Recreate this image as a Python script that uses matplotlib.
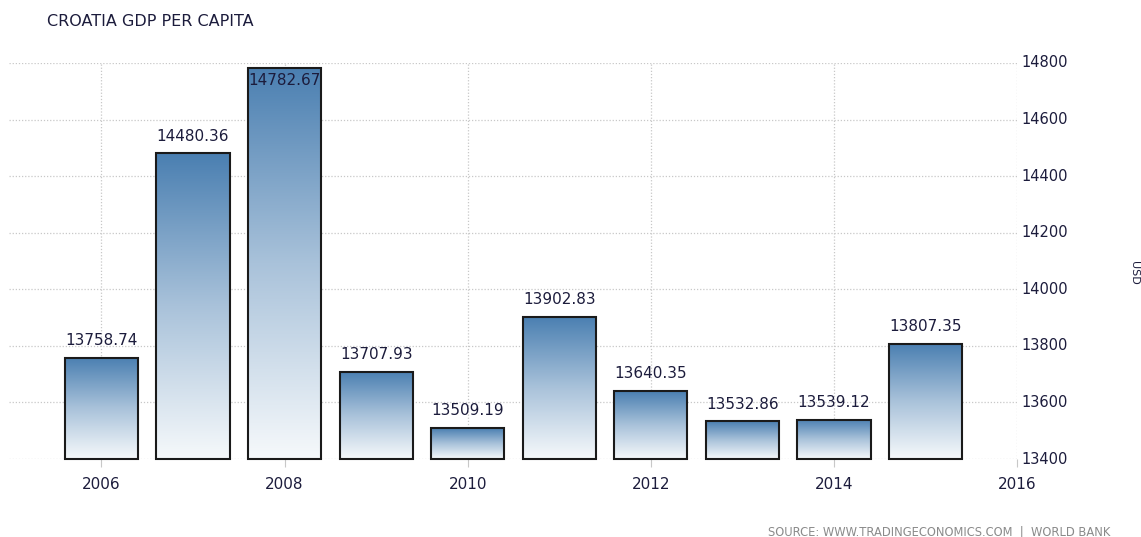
import numpy as np
import matplotlib
matplotlib.use("Agg")
import matplotlib.pyplot as plt
from matplotlib.colors import LinearSegmentedColormap
from matplotlib.patches import Rectangle

plt.rcParams["font.family"] = ["DejaVu Sans"]

years = [2006, 2007, 2008, 2009, 2010, 2011, 2012, 2013, 2014, 2015]
values = [13758.74, 14480.36, 14782.67, 13707.93, 13509.19, 13902.83, 13640.35, 13532.86, 13539.12, 13807.35]
labels = ["13758.74", "14480.36", "14782.67", "13707.93", "13509.19", "13902.83", "13640.35", "13532.86", "13539.12", "13807.35"]
y_ticks = [13400, 13600, 13800, 14000, 14200, 14400, 14600, 14800]
x_ticks = [2006, 2008, 2010, 2012, 2014, 2016]

text_color = "#1c1c3c"
fig = plt.figure(figsize=(11.41, 5.37), dpi=100)
ax = fig.add_axes([9 / 1141, 1 - 459 / 537, (1017 - 9) / 1141, (459 - 63) / 537])
ymin, ymax = 13400, 14800
xmin, xmax = 2004.99, 2016.0

cmap = LinearSegmentedColormap.from_list("g", ["#f6f9fb", "#a9c2da", "#4a7fb1"])
grad = np.linspace(0, 1, 256).reshape(-1, 1)
width = 0.8
for x, v, lab in zip(years, values, labels):
    x0 = x - width / 2
    ax.imshow(grad, extent=(x0, x0 + width, ymin, v), origin="lower", cmap=cmap,
              aspect="auto", zorder=2, interpolation="bicubic")
    rect = Rectangle((x0, ymin), width, v - ymin, facecolor="none", edgecolor="#1a1a1a",
                     linewidth=1.5, zorder=3, clip_on=False)
    ax.add_patch(rect)
    if v + 60 > ymax:
        ax.annotate(lab, (x, v), xytext=(0, -4), textcoords="offset points", ha="center",
                    va="top", fontsize=11, color=text_color, zorder=4)
    else:
        ax.annotate(lab, (x, v), xytext=(0, 7), textcoords="offset points", ha="center",
                    va="bottom", fontsize=11, color=text_color, zorder=4)

ax.set_xlim(xmin, xmax)
ax.set_ylim(ymin, ymax)
ax.set_yticks(y_ticks)
ax.set_xticks(x_ticks)
ax.set_xticklabels([str(t) for t in x_ticks])
ax.yaxis.tick_right()
ax.grid(True, color="#c8c8c8", linestyle=(0, (1, 1.5)), linewidth=0.9, zorder=0)
ax.set_axisbelow(True)
for s in ax.spines.values():
    s.set_visible(False)
ax.tick_params(axis="x", length=6, color="#c8c8c8", pad=7, labelsize=11, labelcolor=text_color)
ax.tick_params(axis="y", length=0, pad=3, labelsize=10.5, labelcolor=text_color)
for lbl in ax.get_yticklabels():
    lbl.set_va("center")

fig.text(47 / 1141, 1 - 22 / 537, "CROATIA GDP PER CAPITA", fontsize=11.5, color=text_color,
         ha="left", va="center")
fig.text(1134 / 1141, 1 - 273 / 537, "USD", fontsize=8, color=text_color, rotation=270,
         ha="center", va="center")
fig.text(1110 / 1141, 1 - 532 / 537, "SOURCE: WWW.TRADINGECONOMICS.COM  |  WORLD BANK",
         fontsize=8.3, color="#8a8a8a", ha="right", va="center")

fig.savefig("out.png", dpi=100)
